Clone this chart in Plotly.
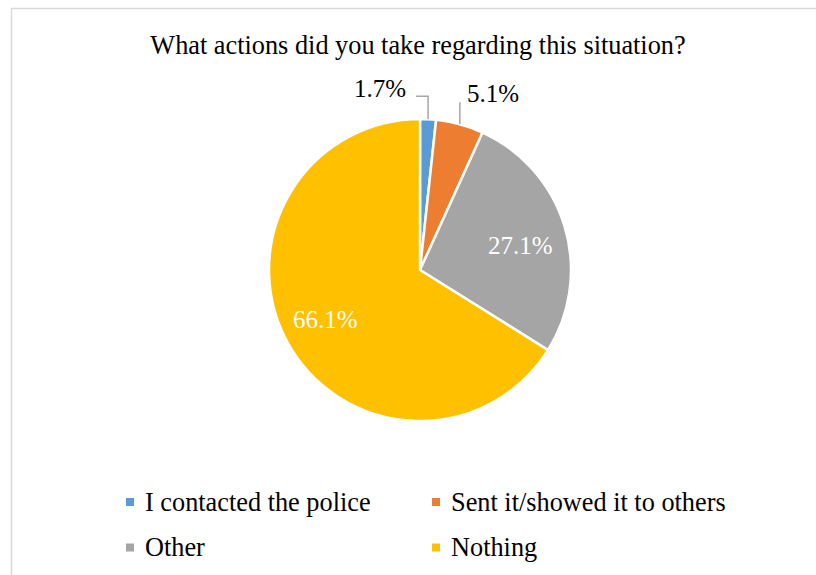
import math
import plotly.graph_objects as go

# Survey responses (share of respondents, %)
categories = ["I contacted the police", "Sent it/showed it to others", "Other", "Nothing"]
shares = [1.7, 5.1, 27.1, 66.1]
colors = ["#5B9BD5", "#ED7D31", "#A5A5A5", "#FFC000"]
title_text = "What actions did you take regarding this situation?"

W, H = 816, 575
CX, CY, R = 420, 270, 151          # pie centre and radius in pixels
FONT = "Liberation Serif, Times New Roman, serif"


def px(x):
    return x / W


def py(y):
    return 1 - y / H


fig = go.Figure(go.Pie(
    labels=categories,
    values=shares,
    sort=False,
    direction="clockwise",
    rotation=0,
    marker=dict(colors=colors, line=dict(color="white", width=2.5)),
    textinfo="none",
    hoverinfo="label+percent",
    showlegend=False,
    domain=dict(x=[px(CX - R), px(CX + R)], y=[py(CY + R), py(CY - R)]),
))

# slice mid-angles (clockwise from 12 o'clock)
total = sum(shares)
mids = []
acc = 0.0
for v in shares:
    mids.append((acc + v / 2) / total * 2 * math.pi)
    acc += v


def polar(theta, r):
    return CX + r * math.sin(theta), CY - r * math.cos(theta)


annotations = []
shapes = []

# label placement: inside labels at a fraction of the radius (plus a small nudge),
# outside labels with an elbow leader line (rise, run, label dx, dy, anchor)
label_style = {
    0: ("outside", 23, -12, -8, -7.5, "right"),
    1: ("outside", 22, 0, 5, -9, "left"),
    2: ("inside", 0.69, 1, 6),
    3: ("inside", 0.70, -2, -2),
}

for i, v in enumerate(shares):
    text = f"{v:.1f}%"
    style = label_style[i]
    if style[0] == "inside":
        _, frac, nx, ny = style
        x, y = polar(mids[i], R * frac)
        annotations.append(dict(
            x=px(x + nx), y=py(y + ny), xref="paper", yref="paper", text=text,
            showarrow=False, xanchor="center", yanchor="middle",
            font=dict(family=FONT, size=25, color="white"),
        ))
    else:
        _, rise, run, dx, dy, anchor = style
        ex, ey = polar(mids[i], R)
        kx, ky = ex, ey - rise
        lx, ly = kx + run, ky
        path = f"M {px(ex)},{py(ey)} L {px(kx)},{py(ky)}"
        if run:
            path += f" L {px(lx)},{py(ly)}"
        shapes.append(dict(type="path", xref="paper", yref="paper", path=path,
                           line=dict(color="#A6A6A6", width=1.5)))
        annotations.append(dict(
            x=px(lx + dx), y=py(ly + dy), xref="paper", yref="paper", text=text,
            showarrow=False, xanchor=anchor, yanchor="middle",
            font=dict(family=FONT, size=25, color="black"),
        ))

# legend laid out as a 2x2 grid below the pie
col_x = [130, 436]
row_y = [502, 547.5]
msz = 8
for i, (name, c) in enumerate(zip(categories, colors)):
    mx = col_x[i % 2]
    my = row_y[i // 2]
    shapes.append(dict(type="rect", xref="paper", yref="paper",
                       x0=px(mx - msz / 2), x1=px(mx + msz / 2),
                       y0=py(my + msz / 2), y1=py(my - msz / 2),
                       fillcolor=c, line=dict(width=0)))
    annotations.append(dict(
        x=px(mx + 12.5), y=py(my), xref="paper", yref="paper", text=name,
        showarrow=False, xanchor="left", yanchor="middle",
        font=dict(family=FONT, size=26.3, color="black"),
    ))

# chart area border
shapes.append(dict(type="rect", xref="paper", yref="paper",
                   x0=px(11.5), y0=py(8.5), x1=px(W + 20), y1=py(H + 20),
                   line=dict(color="#D9D9D9", width=1.5), fillcolor="rgba(0,0,0,0)"))

fig.update_layout(
    width=W, height=H, autosize=False,
    margin=dict(l=0, r=0, t=0, b=0),
    paper_bgcolor="white", plot_bgcolor="white",
    title=dict(text=title_text, x=px(418), y=py(45), xanchor="center", yanchor="middle",
               xref="paper", yref="paper",
               font=dict(family=FONT, size=26.3, color="black")),
    annotations=annotations,
    shapes=shapes,
    showlegend=False,
)

fig.write_html("out.html")
